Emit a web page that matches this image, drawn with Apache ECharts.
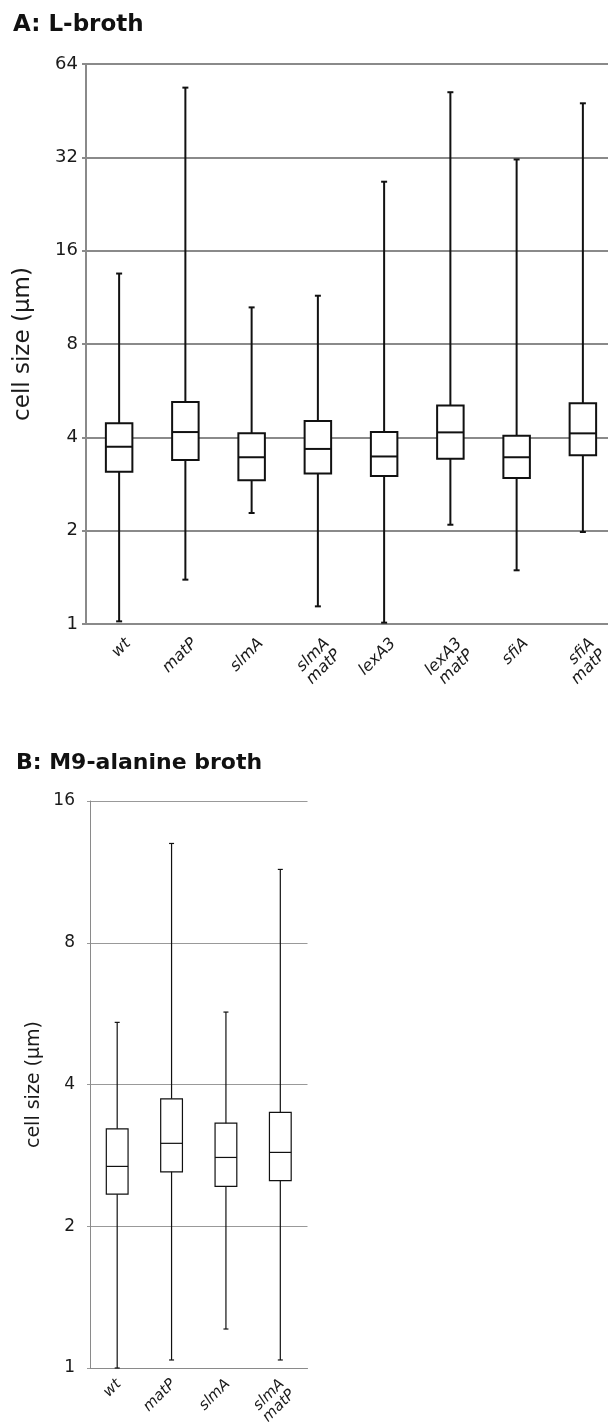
<!DOCTYPE html>
<html>
<head>
<meta charset="utf-8">
<title>cell size</title>
<script src="https://cdn.jsdelivr.net/npm/echarts/dist/echarts.min.js"></script>
<style>
    html, body { margin: 0; padding: 0; background: #fff; }
    #main { width: 608px; height: 1426px; }
</style>
</head>
<body>
<div id="main"></div>
<script>
// A: L-broth
var catsA = ['wt', 'matP', 'slmA', 'slmA\nmatP', 'lexA3', 'lexA3\nmatP', 'sfiA', 'sfiA\nmatP'];
var lowA  = [1.02, 1.39, 2.28, 1.14, 1.01, 2.09, 1.49, 1.98];
var q1A   = [3.10, 3.38, 2.91, 3.06, 3.00, 3.41, 2.96, 3.50];
var medA  = [3.73, 4.16, 3.45, 3.67, 3.47, 4.15, 3.45, 4.12];
var q3A   = [4.44, 5.20, 4.12, 4.52, 4.16, 5.07, 4.05, 5.15];
var highA = [13.5, 53.7, 10.5, 11.45, 26.7, 51.9, 31.5, 47.8];

// B: M9-alanine broth
var catsB = ['wt', 'matP', 'slmA', 'slmA\nmatP'];
var lowB  = [1.0, 1.04, 1.21, 1.04];
var q1B   = [2.34, 2.61, 2.43, 2.50];
var medB  = [2.68, 3.00, 2.80, 2.87];
var q3B   = [3.22, 3.73, 3.31, 3.49];
var highB = [5.42, 13.0, 5.70, 11.45];

var FONT = '"DejaVu Sans", sans-serif';

function rows(low, q1, med, q3, high) {
    var out = [];
    for (var i = 0; i < low.length; i++) {
        out.push([i, low[i], q1[i], med[i], q3[i], high[i]]);
    }
    return out;
}

// box + whisker drawn through the axes (api.coord)
function boxRender(lw, capW) {
    return function (params, api) {
        var i = api.value(0);
        var pLow = api.coord([i, api.value(1)]);
        var pQ1 = api.coord([i, api.value(2)]);
        var pMed = api.coord([i, api.value(3)]);
        var pQ3 = api.coord([i, api.value(4)]);
        var pHigh = api.coord([i, api.value(5)]);
        var half = api.size([1, 0])[0] * 0.2;
        var cx = pMed[0];
        var st = { stroke: '#111', lineWidth: lw, fill: null };
        return {
            type: 'group',
            children: [
                { type: 'line', shape: { x1: cx, y1: pLow[1], x2: cx, y2: pHigh[1] }, style: st },
                { type: 'line', shape: { x1: cx - capW, y1: pLow[1], x2: cx + capW, y2: pLow[1] }, style: st },
                { type: 'line', shape: { x1: cx - capW, y1: pHigh[1], x2: cx + capW, y2: pHigh[1] }, style: st },
                { type: 'rect', shape: { x: cx - half, y: pQ3[1], width: half * 2, height: pQ1[1] - pQ3[1] },
                  style: { stroke: '#111', lineWidth: lw, fill: '#fff' } },
                { type: 'line', shape: { x1: cx - half, y1: pMed[1], x2: cx + half, y2: pMed[1] }, style: st }
            ]
        };
    };
}

var myChart = echarts.init(document.getElementById('main'));
var option = {
    backgroundColor: '#fff',
    animation: false,
    textStyle: { fontFamily: FONT },
    title: [
        { text: 'A: L-broth', left: 13, top: 14, padding: 0,
          textStyle: { fontFamily: FONT, fontSize: 23, fontWeight: 'bold', color: '#111' } },
        { text: 'B: M9-alanine broth', left: 16, top: 752, padding: 0,
          textStyle: { fontFamily: FONT, fontSize: 22, fontWeight: 'bold', color: '#111' } }
    ],
    // panel A runs past the right edge, as in the cropped original
    grid: [
        { left: 86, top: 64, width: 530, height: 560, outerBoundsMode: 'none' },
        { left: 90, top: 801, width: 217.5, height: 567, outerBoundsMode: 'none' }
    ],
    xAxis: [
        {
            type: 'category', gridIndex: 0, data: catsA,
            axisLine: { lineStyle: { color: '#8a8a8a', width: 2 } },
            axisTick: { length: 3, lineStyle: { color: '#9a9a9a' } },
            axisLabel: {
                interval: 0, rotate: 45, margin: 8, verticalAlign: 'top',
                padding: [5, 0, 0, 0], fontSize: 16, fontStyle: 'italic',
                color: '#1a1a1a', lineHeight: 16, fontFamily: FONT
            }
        },
        {
            type: 'category', gridIndex: 1, data: catsB,
            axisLine: { lineStyle: { color: '#8a8a8a', width: 1 } },
            axisTick: { length: 3, lineStyle: { color: '#aaa' } },
            axisLabel: {
                interval: 0, rotate: 45, margin: 5, verticalAlign: 'top',
                padding: [0, 5, 0, 0], fontSize: 15, fontStyle: 'italic',
                color: '#1a1a1a', lineHeight: 15, fontFamily: FONT
            }
        }
    ],
    yAxis: [
        {
            type: 'log', logBase: 2, gridIndex: 0, min: 1, max: 64,
            name: 'cell size (µm)', nameLocation: 'middle', nameGap: 51,
            nameTextStyle: { fontSize: 23, color: '#1a1a1a', fontFamily: FONT },
            axisLine: { show: true, lineStyle: { color: '#8a8a8a', width: 2 } },
            axisTick: { show: true, length: 4, lineStyle: { color: '#8a8a8a', width: 2 } },
            axisLabel: { fontSize: 18, color: '#1a1a1a', margin: 8, fontFamily: FONT },
            splitLine: { lineStyle: { color: '#8a8a8a', width: 2 } }
        },
        {
            type: 'log', logBase: 2, gridIndex: 1, min: 1, max: 16,
            name: 'cell size (µm)', nameLocation: 'middle', nameGap: 46,
            nameTextStyle: { fontSize: 19, color: '#1a1a1a', fontFamily: FONT },
            axisLine: { show: true, lineStyle: { color: '#8a8a8a', width: 1 } },
            axisTick: { show: true, length: 3, lineStyle: { color: '#999' } },
            axisLabel: { fontSize: 17, color: '#1a1a1a', margin: 15, fontFamily: FONT },
            splitLine: { lineStyle: { color: '#999', width: 1 } }
        }
    ],
    series: [
        {
            type: 'custom', name: 'L-broth', xAxisIndex: 0, yAxisIndex: 0,
            renderItem: boxRender(2, 3),
            encode: { x: 0, y: [1, 2, 3, 4, 5] },
            data: rows(lowA, q1A, medA, q3A, highA)
        },
        {
            type: 'custom', name: 'M9-alanine', xAxisIndex: 1, yAxisIndex: 1,
            renderItem: boxRender(1.2, 2.5),
            encode: { x: 0, y: [1, 2, 3, 4, 5] },
            data: rows(lowB, q1B, medB, q3B, highB)
        }
    ]
};
myChart.setOption(option);
</script>
</body>
</html>
